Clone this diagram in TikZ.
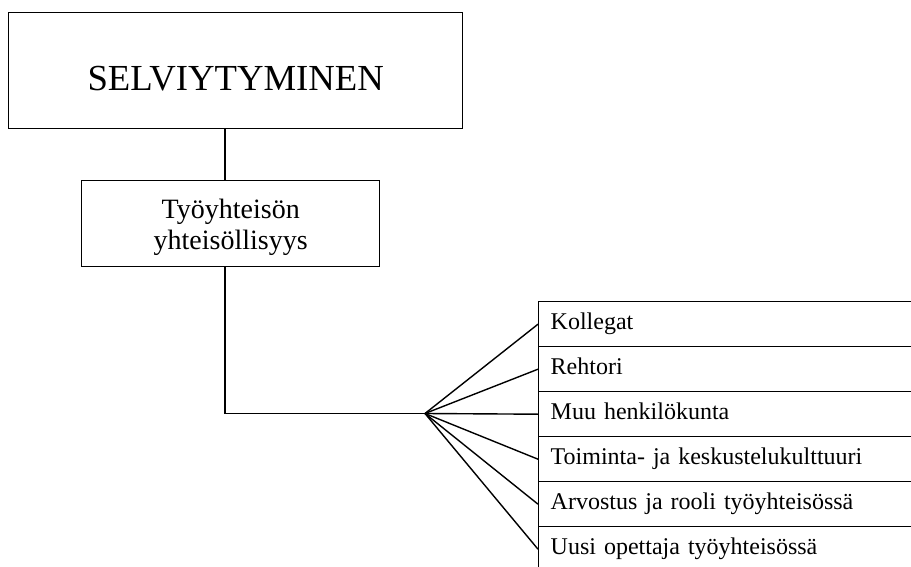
\documentclass[tikz,border=0pt]{standalone}
\usepackage{fontspec}
\setmainfont{Liberation Serif}
\begin{document}
\begin{tikzpicture}[x=1pt,y=-1pt,
  line width=1.4pt,
  titlebox/.style={draw, inner sep=0pt, align=center, anchor=north west,
    font=\fontsize{36.7}{44}\selectfont},
  subbox/.style={draw, inner sep=0pt, align=center, anchor=north west,
    font=\fontsize{28}{31}\selectfont},
  rowbox/.style={draw, inner ysep=0pt, inner xsep=12pt, align=left, anchor=north west,
    text width=378pt, text height=28pt, text depth=17pt,
    font=\fontsize{24}{28}\selectfont},
  link/.style={line width=1.4pt}]
\path[use as bounding box, clip] (0,0) rectangle (911,567);

% main heading box
\node[titlebox, text width=454pt, text height=78pt, text depth=38pt] (top) at (8,12) {SELVIYTYMINEN};

% sub-theme box
\node[subbox, text width=298pt, text height=38pt, text depth=48pt] (sub) at (81,180) {Työyhteisön\\yhteisöllisyys};

% list of categories
\node[rowbox] (r1) at (538,301) {Kollegat};
\node[rowbox] (r2) at (538,346) {Rehtori};
\node[rowbox] (r3) at (538,391) {Muu henkilökunta};
\node[rowbox] (r4) at (538,436) {Toiminta- ja keskustelukulttuuri};
\node[rowbox] (r5) at (538,481) {Arvostus ja rooli työyhteisössä};
\node[rowbox] (r6) at (538,526) {Uusi opettaja työyhteisössä};

% connectors
\coordinate (stem) at (225,0);
\coordinate (fan) at (425,413.5);
\draw[link] (top.south -| stem) -- (sub.north -| stem);
\draw[link] (sub.south -| stem) |- (fan);
\foreach \r in {r1,r2,r3,r4,r5,r6}
  \draw[link] (fan) -- (\r.west);
\end{tikzpicture}
\end{document}
